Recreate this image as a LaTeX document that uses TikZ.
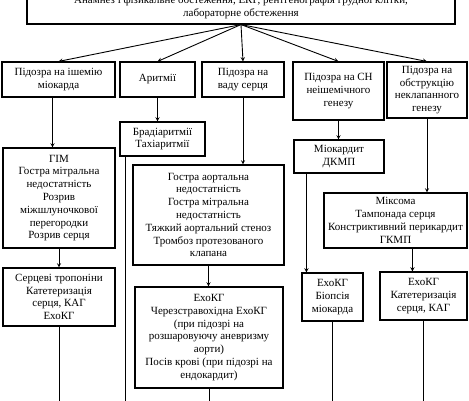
\documentclass[tikz,border=0pt]{standalone}
\usepackage{fontspec}
\setmainfont{Liberation Serif}
\tikzset{box/.style={draw, line width=1.1pt, align=center, inner sep=1pt, font=\fontsize{11}{12.8}\selectfont}}

\begin{document}
\begin{tikzpicture}[x=1pt, y=-1pt, >=stealth, line width=0.9pt]
    \useasboundingbox (0,0) rectangle (469,400);
    \coordinate (bot) at (0,406);

    \draw(241,7.5) node[box, minimum width=428, minimum height=33] (top) {Анамнез і фізикальне обстеження, ЕКГ, рентгенографія грудної клітки,\\лабораторне обстеження};

    % first row
    \draw(58.5,79.5) node[box, minimum width=113, minimum height=35] (isch) {Підозра на ішемію\\міокарда};
    \draw(157.5,79.5) node[box, minimum width=75, minimum height=35] (arr) {Аритмії};
    \draw(243,79.5) node[box, minimum width=82, minimum height=35] (valve) {Підозра на\\ваду серця};
    \draw(338.5,91) node[box, minimum width=91, minimum height=58] (hf) {Підозра на СН\\неішемічного\\генезу};
    \draw(427,90) node[box, minimum width=80, minimum height=56] (obstr) {Підозра на\\обструкцію\\неклапанного\\генезу};

    % second row
    \draw(59,198) node[box, minimum width=112, minimum height=100] (isch2) {ГІМ\\Гостра мітральна\\недостатність\\Розрив\\міжшлуночкової\\перегородки\\Розрив серця};
    \draw(162.5,139) node[box, minimum width=85, minimum height=34] (brady) {Брадіаритмії\\Тахіаритмії};
    \draw(208.5,215) node[box, minimum width=151, minimum height=100] (valve2) {Гостра аортальна\\недостатність\\Гостра мітральна\\недостатність\\Тяжкий аортальний стеноз\\Тромбоз протезованого\\клапана};
    \draw(339,156.5) node[box, minimum width=90, minimum height=33] (myo) {Міокардит\\ДКМП};
    \draw(395.5,220.5) node[box, minimum width=143, minimum height=55] (mix) {Міксома\\Тампонада серця\\Констриктивний перикардит\\ГКМП};

    % third row
    \draw(59,297) node[box, minimum width=112, minimum height=58] (isch3) {Серцеві тропоніни\\Катетеризація\\серця, КАГ\\ЕхоКГ};
    \draw(209,337.5) node[box, minimum width=148, minimum height=101] (valve3) {ЕхоКГ\\Черезстравохідна ЕхоКГ\\(при підозрі на\\розшаровуючу аневризму\\аорти)\\Посів крові (при підозрі на\\ендокардит)};
    \draw(332.5,297) node[box, minimum width=61, minimum height=48] (myo3) {ЕхоКГ\\Біопсія\\міокарда};
    \draw(423.5,296) node[box, minimum width=87, minimum height=48] (mix3) {ЕхоКГ\\Катетеризація\\серця, КАГ};

    \coordinate (i0) at ([xshift=-6]isch.south);
    \coordinate (b0) at ([xshift=6]brady.south west);
    \coordinate (m0) at ([xshift=13]myo.south west);
    \coordinate (x0) at ([xshift=33]mix3.north west);

    \draw[->] (top.south) to (isch.north);
    \draw[->] (top.south) to (arr.north);
    \draw[->] (top.south) to (valve.north);
    \draw[->] (top.south) to (hf.north);
    \draw[->] (top.south) to (obstr.north);

    \draw[->] (i0) to (i0 |- isch2.north);
    \draw[->] (isch2.south) to (isch3.north);
    \draw (isch3.south) to (isch3.south |- bot);

    \draw[->] (arr.south) to (arr.south |- brady.north);
    \draw (b0) to (b0 |- bot);

    \draw[->] (valve.south) to (valve.south |- valve2.north);
    \draw[->] (valve2.south) to (valve2.south |- valve3.north);
    \draw (valve3.south) to (valve3.south |- bot);

    \draw[->] (hf.south) to (hf.south |- myo.north);
    \draw[->] (m0) to (m0 |- myo3.north);
    \draw (myo3.south) to (myo3.south |- bot);

    \draw[->] (obstr.south) to (obstr.south |- mix.north);
    \draw[->] (x0 |- mix.south) to (x0);
    \draw (mix3.south) to (mix3.south |- bot);

\end{tikzpicture}
\end{document}
